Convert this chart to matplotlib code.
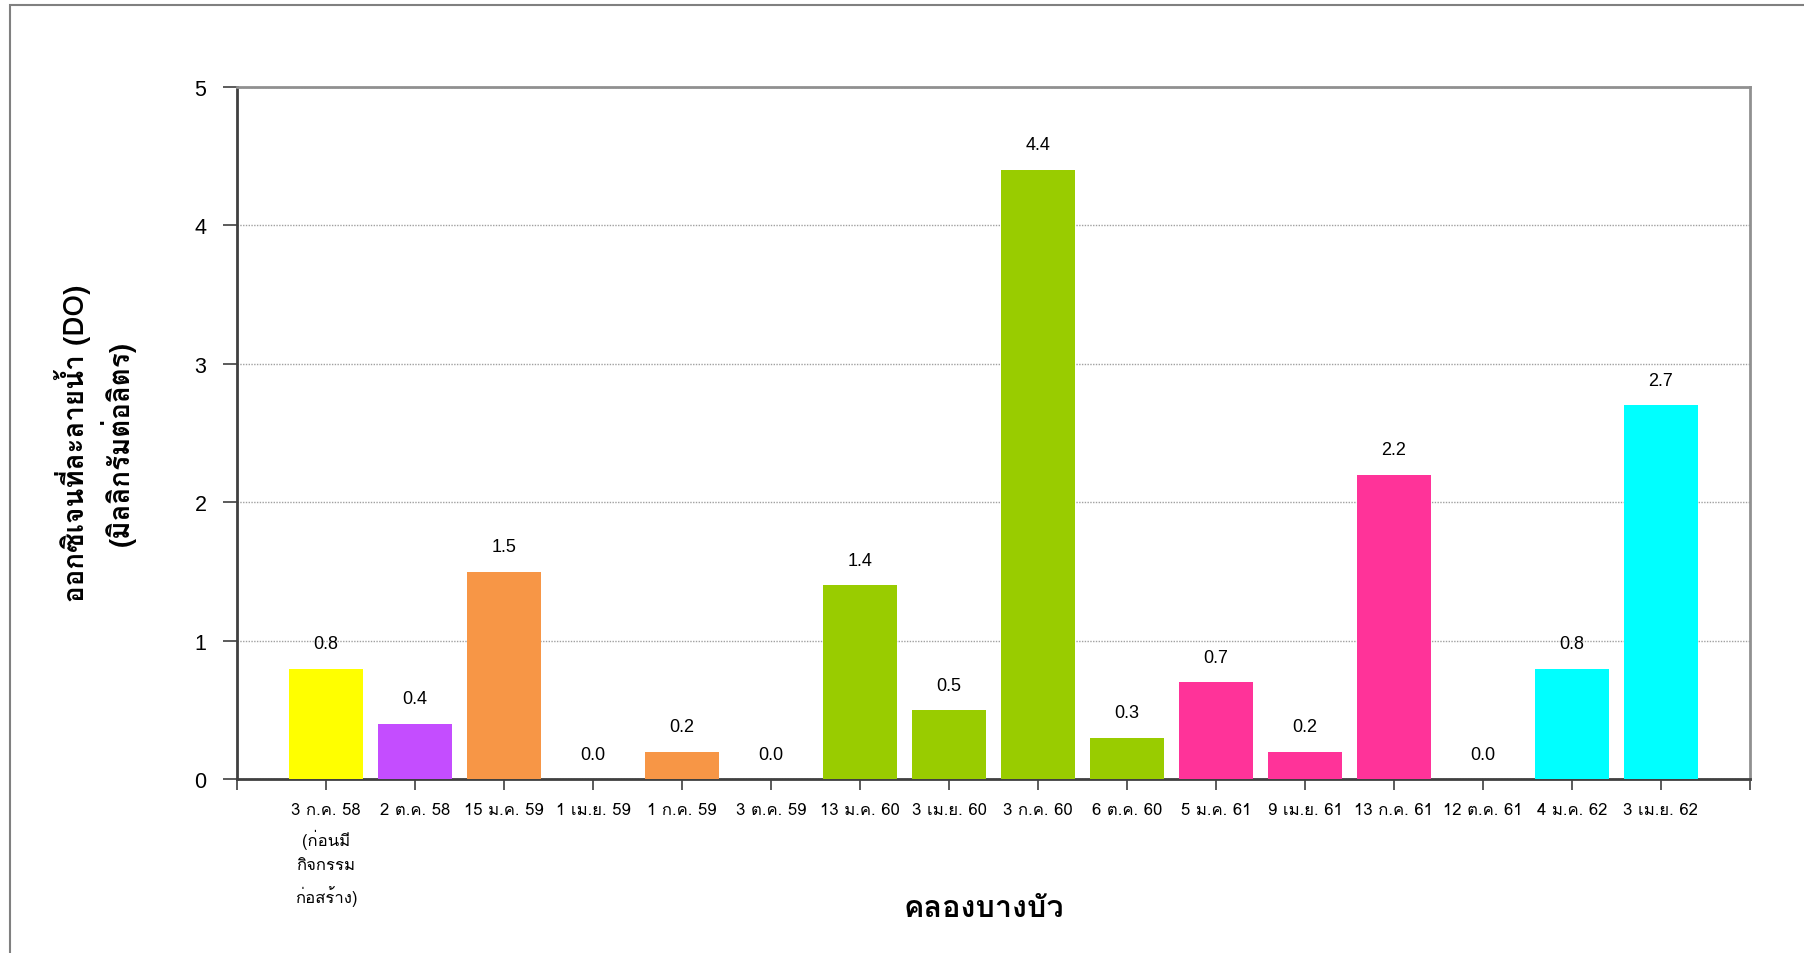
import matplotlib
matplotlib.use('Agg')
import matplotlib.pyplot as plt
from matplotlib import font_manager
from matplotlib.patches import Rectangle
from fontTools.ttLib import TTFont


def thai_family():
    # ищем установленный шрифт, в котором есть тайские буквы
    for f in font_manager.fontManager.ttflist:
        try:
            font = TTFont(f.fname, fontNumber=0, lazy=True)
            if 0x0E01 in font.getBestCmap():
                return f.name
        except Exception:
            pass
    return 'DejaVu Sans'


THAI = thai_family()

dates = ['3 ก.ค. 58\n(ก่อนมี\nกิจกรรม\nก่อสร้าง)', '2 ต.ค. 58', '15 ม.ค. 59', '1 เม.ย. 59',
         '1 ก.ค. 59', '3 ต.ค. 59', '13 ม.ค. 60', '3 เม.ย. 60', '3 ก.ค. 60', '6 ต.ค. 60',
         '5 ม.ค. 61', '9 เม.ย. 61', '13 ก.ค. 61', '12 ต.ค. 61', '4 ม.ค. 62', '3 เม.ย. 62']
do_values = [0.8, 0.4, 1.5, 0.0, 0.2, 0.0, 1.4, 0.5, 4.4, 0.3, 0.7, 0.2, 2.2, 0.0, 0.8, 2.7]
colors = ['#FFFF00', '#C44DFF', '#F79646', '#F79646', '#F79646', '#F79646',
          '#99CC00', '#99CC00', '#99CC00', '#99CC00',
          '#FF3399', '#FF3399', '#FF3399', '#FF3399', '#00FFFF', '#00FFFF']

fig = plt.figure(figsize=(18.04, 9.54), dpi=100)
ax = fig.add_axes([0.1314, 0.182, 0.8386, 0.726])

# рамка вокруг всей диаграммы
fig.patches.append(Rectangle((10 / 1804, -0.05), 1.2, 1.05 - 6 / 954, transform=fig.transFigure,
                             fill=False, edgecolor='#808080', linewidth=1.5))

x = list(range(len(do_values)))
ax.bar(x, do_values, width=0.84, color=colors, zorder=3)
for xi, v in zip(x, do_values):
    ax.annotate(f'{v:.1f}', (xi, v), xytext=(0, 18), textcoords='offset points',
                ha='center', va='center', fontsize=13, family='Liberation Sans')

ax.set_xlim(-1, len(do_values))
ax.set_ylim(0, 5)
ax.set_yticks([0, 1, 2, 3, 4, 5])
ax.set_yticklabels(['0', '1', '2', '3', '4', '5'], family='Liberation Sans', fontsize=15.5)
ax.set_xticks(list(range(-1, len(do_values) + 1)))
ax.set_xticklabels([''] + dates + [''], family=[THAI, 'DejaVu Sans'], fontsize=12,
                   linespacing=1.7, va='top')
ax.tick_params(axis='y', length=10, width=1.2, color='#404040', pad=12)
ax.tick_params(axis='x', length=8, width=1.2, color='#404040', pad=8)

ax.grid(axis='y', color='#A0A0A0', linestyle=(0, (1, 1)), linewidth=1, zorder=0)
for side in ['top', 'right']:
    ax.spines[side].set_color('#909090')
    ax.spines[side].set_linewidth(2)
for side in ['left', 'bottom']:
    ax.spines[side].set_color('#404040')
    ax.spines[side].set_linewidth(2)

fig.text(0.0525, 0.535, 'ออกซิเจนที่ละลายน้ำ (DO)\n(มิลลิกรัมต่อลิตร)', rotation=90,
         ha='center', va='center', fontsize=20, fontweight='bold',
         family=[THAI, 'DejaVu Sans'], linespacing=1.3)
fig.text(0.5455, 0.047, 'คลองบางบัว', ha='center', va='center', fontsize=22, fontweight='bold',
         family=[THAI, 'DejaVu Sans'])

fig.savefig('out.png', dpi=100, facecolor='white')
